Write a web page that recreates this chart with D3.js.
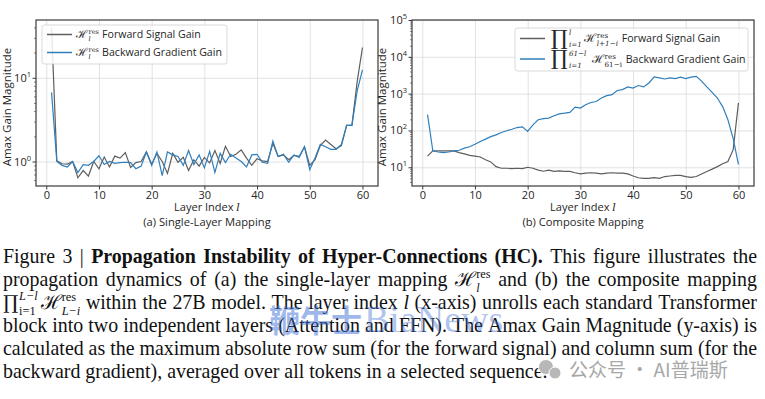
<!DOCTYPE html>
<html>
<head>
<meta charset="utf-8">
<script src="https://cdn.jsdelivr.net/npm/d3@7"></script>
<style>
  body { margin: 0; background: #fff; }
  svg { display: block; }
</style>
</head>
<body>
<div id="chart"></div>
<script>
// layer index 1..60
const layers = d3.range(1, 61);
const xTicks = [0, 10, 20, 30, 40, 50, 60];

// (a) single-layer mapping
const singleForward = [40, 1.02, 0.94, 0.93, 1.0, 0.64, 0.78, 0.67, 1.0, 0.82,
  1.13, 0.86, 1.16, 1.1, 1.28, 0.85, 0.97, 1.0, 1.3, 0.93,
  1.25, 1.0, 0.72, 1.25, 0.98, 1.12, 0.78, 1.05, 0.88, 1.12,
  0.96, 1.35, 0.95, 1.52, 1.15, 1.22, 1.38, 1.1, 0.9, 1.08,
  1.02, 1.0, 1.65, 1.15, 1.2, 1.05, 1.18, 1.15, 1.5, 0.9,
  1.05, 1.55, 1.8, 1.6, 1.42, 1.55, 2.7, 2.7, 9, 23];
const singleBackward = [6.7, 1.0, 0.9, 0.86, 1.0, 0.74, 0.92, 0.9, 1.0, 1.17,
  0.92, 1.0, 0.95, 0.97, 0.98, 0.97, 0.82, 0.88, 1.3, 0.9,
  1.3, 0.68, 1.3, 1.2, 1.15, 0.9, 1.35, 0.92, 1.2, 0.84,
  1.32, 0.74, 1.25, 0.97, 1.22, 1.1, 1.0, 0.86, 1.2, 1.22,
  0.98, 0.95, 1.75, 1.15, 1.22, 0.98, 1.2, 1.12, 1.5, 0.8,
  1.1, 1.6, 1.5, 1.4, 1.4, 1.6, 2.7, 2.7, 7, 12.4];

// (b) composite mapping
const compForward = [20, 28, 28, 28, 28, 28, 25, 23, 21, 20,
  19, 16, 14, 10.4, 9.4, 9.4, 9.2, 9.4, 9.2, 10,
  9.4, 8.4, 7.8, 8.4, 7.7, 8, 7.7, 7.7, 7.1, 6.6,
  6.9, 7.1, 6.9, 6.6, 6.9, 7.1, 6.9, 6.9, 6.6, 5.8,
  5.2, 5.0, 5.0, 5.2, 5.0, 5.6, 5.8, 6.0, 6.0, 5.6,
  5.3, 5.6, 6.6, 7.7, 8.9, 10.4, 12.5, 14.4, 30, 560];
const compBackward = [268, 28, 26, 25, 26, 28, 29, 33, 36, 42,
  50, 58, 68, 76, 88, 98, 108, 120, 125, 94,
  142, 195, 210, 216, 250, 283, 295, 310, 430, 405,
  500, 575, 610, 760, 880, 935, 1220, 1285, 1520, 1420,
  1660, 1520, 1950, 2850, 2680, 2500, 2680, 2550, 2800, 2550,
  2800, 2950, 2180, 1520, 1080, 760, 445, 195, 60, 12];

const W = 765, H = 399;
const sans = '"Open Sans", "DejaVu Sans", sans-serif';
const serif = '"Liberation Serif", "DejaVu Serif", serif';
const mathFont = '"DejaVu Serif", "Liberation Serif", serif';
const grayColor = '#5e5e5e';
const blueColor = '#2f7fbd';
const ink = '#262626';

const svg = d3.select('#chart').append('svg')
  .attr('width', W).attr('height', H);

// lays out text pieces; stack:true puts a piece at the start of the previous one
function runs(g, x, y, list, font, size, fill) {
  let cx = x, prevStart = x, prevEnd = x;
  list.forEach(r => {
    const fs = size * (r.s || 1);
    const sx = r.stack ? prevStart : cx + (r.gap || 0) * size;
    const t = g.append('text')
      .attr('x', sx).attr('y', y + (r.dy || 0) * size)
      .attr('font-family', r.ff || font)
      .attr('font-size', fs)
      .attr('font-style', r.it ? 'italic' : null)
      .attr('font-weight', r.b ? 'bold' : null)
      .attr('fill', fill)
      .text(r.t);
    const end = sx + t.node().getComputedTextLength();
    if (r.stack) {
      cx = Math.max(prevEnd, end);
    } else {
      prevStart = sx;
      cx = end;
    }
    prevEnd = cx;
  });
  return cx;
}

function drawPanel(cfg) {
  const x = d3.scaleLinear().domain([-1.95, 62.95]).range([cfg.left, cfg.right]);
  const y = d3.scaleLog().domain(cfg.yDomain).range([cfg.bottom, cfg.top]);
  const g = svg.append('g');
  const pw = cfg.right - cfg.left, ph = cfg.bottom - cfg.top;

  // grid
  g.append('g')
    .attr('transform', `translate(0,${cfg.bottom})`)
    .call(d3.axisBottom(x).tickValues(xTicks).tickSize(-ph).tickFormat(''))
    .call(a => {
      a.select('.domain').remove();
      a.selectAll('line').attr('stroke', '#dadada').attr('stroke-width', 0.8);
    });
  g.append('g')
    .attr('transform', `translate(${cfg.left},0)`)
    .call(d3.axisLeft(y).tickValues(cfg.yTicks).tickSize(-pw).tickFormat(''))
    .call(a => {
      a.select('.domain').remove();
      a.selectAll('line').attr('stroke', '#dadada').attr('stroke-width', 0.8);
    });

  const line = d3.line()
    .x((d, i) => x(layers[i]))
    .y(d => y(d));

  g.append('path')
    .datum(cfg.fwd)
    .attr('fill', 'none')
    .attr('stroke', grayColor)
    .attr('stroke-width', 1.2)
    .attr('d', line);
  g.append('path')
    .datum(cfg.bwd)
    .attr('fill', 'none')
    .attr('stroke', blueColor)
    .attr('stroke-width', 1.2)
    .attr('d', line);

  // frame
  g.append('rect')
    .attr('x', cfg.left).attr('y', cfg.top)
    .attr('width', pw).attr('height', ph)
    .attr('fill', 'none')
    .attr('stroke', '#3a3a3a')
    .attr('stroke-width', 1.2);

  // x axis
  g.append('g')
    .attr('transform', `translate(0,${cfg.bottom})`)
    .call(d3.axisBottom(x).tickValues(xTicks).tickSize(3.5).tickPadding(2))
    .call(a => {
      a.select('.domain').remove();
      a.selectAll('line').attr('stroke', '#3a3a3a');
      a.selectAll('text').attr('font-family', sans).attr('font-size', 11).attr('fill', ink);
    });

  // y axis, major + minor ticks
  const minor = y.ticks().filter(v => !cfg.yTicks.includes(v));
  g.append('g')
    .attr('transform', `translate(${cfg.left},0)`)
    .call(d3.axisLeft(y).tickValues(minor).tickSize(2).tickFormat(''))
    .call(a => {
      a.select('.domain').remove();
      a.selectAll('line').attr('stroke', '#3a3a3a').attr('stroke-width', 0.6);
    });
  g.append('g')
    .attr('transform', `translate(${cfg.left},0)`)
    .call(d3.axisLeft(y).tickValues(cfg.yTicks).tickSize(3.5).tickFormat(''))
    .call(a => {
      a.select('.domain').remove();
      a.selectAll('line').attr('stroke', '#3a3a3a');
    });
  cfg.yTicks.forEach(v => {
    const t = g.append('text')
      .attr('x', cfg.left - 5)
      .attr('y', y(v) + 4)
      .attr('text-anchor', 'end')
      .attr('font-family', sans)
      .attr('font-size', 11)
      .attr('fill', ink);
    t.append('tspan').text('10');
    t.append('tspan').attr('dy', -5).attr('font-size', 7.5)
      .text(Math.round(Math.log10(v)));
  });

  // labels
  g.append('text')
    .attr('transform', `translate(${cfg.ylabX},${(cfg.top + cfg.bottom) / 2 + 4}) rotate(-90)`)
    .attr('text-anchor', 'middle')
    .attr('font-family', sans).attr('font-size', 11.5).attr('fill', ink)
    .text('Amax Gain Magnitude');
  const xl = g.append('text')
    .attr('x', (cfg.left + cfg.right) / 2).attr('y', 211)
    .attr('text-anchor', 'middle')
    .attr('font-family', sans).attr('font-size', 11).attr('fill', ink);
  xl.append('tspan').text('Layer Index ');
  xl.append('tspan').attr('font-family', mathFont).attr('font-style', 'italic').text('l');
  g.append('text')
    .attr('x', (cfg.left + cfg.right) / 2).attr('y', 225.5)
    .attr('text-anchor', 'middle')
    .attr('font-family', sans).attr('font-size', 11.2).attr('fill', ink)
    .text(cfg.title);

  // legend
  const lg = g.append('g');
  lg.append('rect')
    .attr('x', cfg.leg.x).attr('y', cfg.leg.y)
    .attr('width', cfg.leg.w).attr('height', cfg.leg.h)
    .attr('rx', 2.5)
    .attr('fill', '#fff').attr('fill-opacity', 0.85)
    .attr('stroke', '#cfcfcf').attr('stroke-width', 0.8);
  cfg.leg.items.forEach((it, i) => {
    const yy = cfg.leg.rows[i];
    lg.append('line')
      .attr('x1', cfg.leg.x + 5).attr('x2', cfg.leg.x + 30)
      .attr('y1', yy).attr('y2', yy)
      .attr('stroke', i === 0 ? grayColor : blueColor)
      .attr('stroke-width', 1.5);
    runs(lg, cfg.leg.x + cfg.leg.tx, yy + 3.8, it, sans, 10.6, ink);
  });
}

const H_ = { t: 'ℋ', ff: mathFont, s: 1.05 };
drawPanel({
  left: 36, right: 378, top: 20, bottom: 186,
  yDomain: [0.51, 49], yTicks: [1, 10],
  fwd: singleForward, bwd: singleBackward,
  ylabX: 11, title: '(a) Single-Layer Mapping',
  leg: {
    x: 42, y: 25, w: 185, h: 39, rows: [34.5, 52.5], tx: 34,
    items: [
      [H_, { t: 'res', s: 0.62, dy: -0.4, ff: mathFont, gap: 0.05 },
        { t: 'l', s: 0.62, dy: 0.3, ff: mathFont, it: true, stack: true },
        { t: 'Forward Signal Gain', gap: 0.3 }],
      [H_, { t: 'res', s: 0.62, dy: -0.4, ff: mathFont, gap: 0.05 },
        { t: 'l', s: 0.62, dy: 0.3, ff: mathFont, it: true, stack: true },
        { t: 'Backward Gradient Gain', gap: 0.3 }]
    ]
  }
});

drawPanel({
  left: 412, right: 754, top: 20, bottom: 186,
  yDomain: [3.1, 100000], yTicks: [10, 100, 1000, 10000, 100000],
  fwd: compForward, bwd: compBackward,
  ylabX: 386, title: '(b) Composite Mapping',
  leg: {
    x: 515, y: 28, w: 233, h: 43, rows: [38.5, 59], tx: 36,
    items: [
      [{ t: '∏', ff: mathFont, s: 2.0, dy: 0.25 },
        { t: 'l', s: 0.68, dy: -0.65, ff: mathFont, it: true, gap: 0.1 },
        { t: 'i=1', s: 0.68, dy: 0.45, ff: mathFont, it: true, stack: true },
        { t: 'ℋ', ff: mathFont, s: 1.1, gap: 0.2 },
        { t: 'res', s: 0.68, dy: -0.4, ff: mathFont, gap: 0.08 },
        { t: 'l+1−i', s: 0.68, dy: 0.35, ff: mathFont, it: true, stack: true },
        { t: 'Forward Signal Gain', gap: 0.35 }],
      [{ t: '∏', ff: mathFont, s: 2.0, dy: 0.25 },
        { t: '61−l', s: 0.68, dy: -0.65, ff: mathFont, it: true, gap: 0.1 },
        { t: 'i=1', s: 0.68, dy: 0.45, ff: mathFont, it: true, stack: true },
        { t: 'ℋ', ff: mathFont, s: 1.1, gap: 0.5 },
        { t: 'res', s: 0.68, dy: -0.4, ff: mathFont, gap: 0.08 },
        { t: '61−i', s: 0.68, dy: 0.35, ff: mathFont, stack: true },
        { t: 'Backward Gradient Gain', gap: 0.35 }]
    ]
  }
});

// caption
const B = t => [{ t, b: true }];
const capLines = [
  ['Figure', '3', '|', B('Propagation'), B('Instability'), B('of'), B('Hyper-Connections'), B('(HC).'),
    'This', 'figure', 'illustrates', 'the'],
  ['propagation', 'dynamics', 'of', '(a)', 'the', 'single-layer', 'mapping',
    [{ t: 'ℋ', ff: mathFont }, { t: 'res', s: 0.62, dy: -0.4 }, { t: 'l', s: 0.62, dy: 0.3, it: true, stack: true }],
    'and', '(b)', 'the', 'composite', 'mapping'],
  [[{ t: '∏', ff: mathFont, s: 0.95 },
    { t: 'L−l', s: 0.62, dy: -0.45, it: true, gap: 0.05 },
    { t: 'i=1', s: 0.62, dy: 0.3, stack: true },
    { t: 'ℋ', ff: mathFont, gap: 0.15 },
    { t: 'res', s: 0.62, dy: -0.4 },
    { t: 'L−i', s: 0.62, dy: 0.3, it: true, stack: true }],
    'within', 'the', '27B', 'model.', 'The', 'layer', 'index', [{ t: 'l', it: true }],
    '(x-axis)', 'unrolls', 'each', 'standard', 'Transformer'],
  ['block', 'into', 'two', 'independent', 'layers', '(Attention', 'and', 'FFN).', 'The', 'Amax',
    'Gain', 'Magnitude', '(y-axis)', 'is'],
  ['calculated', 'as', 'the', 'maximum', 'absolute', 'row', 'sum', '(for', 'the', 'forward',
    'signal)', 'and', 'column', 'sum', '(for', 'the'],
  ['backward', 'gradient),', 'averaged', 'over', 'all', 'tokens', 'in', 'a', 'selected', 'sequence.']
];

const cap = svg.append('g');
function setLine(words, baseline, size, justify) {
  const gs = words.map(w => {
    const wg = cap.append('g');
    const list = typeof w === 'string' ? [{ t: w }] : w;
    const width = runs(wg, 0, 0, list, serif, size, '#111');
    return { wg, width };
  });
  const total = d3.sum(gs, d => d.width);
  const gap = justify ? (757 - 3 - total) / (gs.length - 1) : size * 0.25;
  let cx = 3;
  gs.forEach(d => {
    d.wg.attr('transform', `translate(${cx},${baseline})`);
    cx += d.width + gap;
  });
  return cx - gap - 3;
}
// size the caption font so the last line ends where it does in the figure
const probe = setLine(capLines[5], -100, 19, false);
cap.selectAll('*').remove();
const capSize = 19 * 545 / probe;
capLines.forEach((ln, i) => setLine(ln, 263 + 23 * i, capSize, i < 5));

// watermarks
const wm = svg.append('g');
wm.append('text')
  .attr('x', 269).attr('y', 332)
  .attr('font-family', '"Noto Sans CJK SC", sans-serif')
  .attr('font-weight', 'bold')
  .attr('font-size', 31)
  .attr('fill', '#3f6fd6').attr('fill-opacity', 0.5)
  .text('鞭牛士');
wm.append('text')
  .attr('x', 364).attr('y', 332)
  .attr('font-family', serif)
  .attr('font-size', 38)
  .attr('fill', '#3f6fd6').attr('fill-opacity', 0.42)
  .text('BiaNews');
wm.append('circle').attr('cx', 546).attr('cy', 367).attr('r', 7.5)
  .attr('fill', '#b8b8b8').attr('stroke', '#fff').attr('stroke-width', 1);
wm.append('circle').attr('cx', 555).attr('cy', 373).attr('r', 6)
  .attr('fill', '#b8b8b8').attr('stroke', '#fff').attr('stroke-width', 1);
wm.append('text')
  .attr('x', 569).attr('y', 377)
  .attr('font-family', '"Noto Sans CJK SC", sans-serif')
  .attr('font-size', 19)
  .attr('fill', '#a8a8a8')
  .text('公众号 · AI普瑞斯');
</script>
</body>
</html>
